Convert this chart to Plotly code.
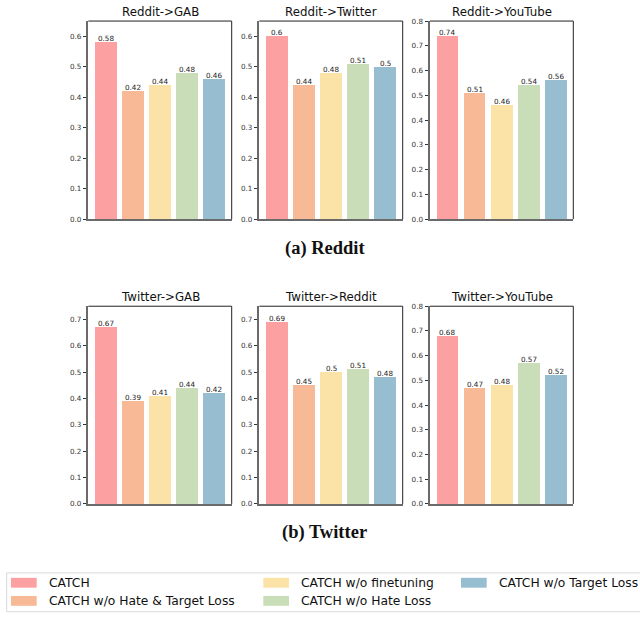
import plotly.graph_objects as go

# ---- data ----
methods = ["CATCH", "CATCH w/o Hate & Target Loss", "CATCH w/o finetuning",
           "CATCH w/o Hate Loss", "CATCH w/o Target Loss"]
colors = ["#FDA0A2", "#F7B996", "#FBE3A8", "#C9DEB8", "#96BDD0"]

titles_reddit = ["Reddit->GAB", "Reddit->Twitter", "Reddit->YouTube"]
titles_twitter = ["Twitter->GAB", "Twitter->Reddit", "Twitter->YouTube"]

# values per panel, in method order
reddit_gab = [0.58, 0.42, 0.44, 0.48, 0.46]
reddit_twitter = [0.6, 0.44, 0.48, 0.51, 0.5]
reddit_youtube = [0.74, 0.51, 0.46, 0.54, 0.56]
twitter_gab = [0.67, 0.39, 0.41, 0.44, 0.42]
twitter_reddit = [0.69, 0.45, 0.5, 0.51, 0.48]
twitter_youtube = [0.68, 0.47, 0.48, 0.57, 0.52]

ymax = [0.65, 0.65, 0.8, 0.75, 0.75, 0.8]
group_labels = ["(a) Reddit", "(b) Twitter"]

panels = [reddit_gab, reddit_twitter, reddit_youtube,
          twitter_gab, twitter_reddit, twitter_youtube]
titles = titles_reddit + titles_twitter

W, H = 640, 618
xpix = [(88.3, 231.7), (259.3, 402.7), (430.0, 573.3)]
ypix = [(17.3, 218.3), (306.7, 507.3)]

fig = go.Figure()
annotations = []
shapes = []
for i, vals in enumerate(panels):
    r, c = divmod(i, 3)
    n = i + 1
    xa = "x" if n == 1 else f"x{n}"
    ya = "y" if n == 1 else f"y{n}"
    for k, (m, col) in enumerate(zip(methods, colors)):
        fig.add_trace(go.Bar(
            x=[k], y=[vals[k]], width=0.8, name=m, marker_color=col,
            marker_line_width=0, showlegend=False, xaxis=xa, yaxis=ya))
        annotations.append(dict(text=str(vals[k]), xref=xa, yref=ya, x=k, y=vals[k],
                                xanchor="center", yanchor="bottom", showarrow=False,
                                yshift=-2, borderpad=0,
                                font=dict(size=7.2, color="#222", family="DejaVu Sans")))
    x0, x1 = xpix[c]
    y0, y1 = ypix[r]
    dom_x = [x0 / W, x1 / W]
    dom_y = [1 - y1 / H, 1 - y0 / H]
    xkey = "xaxis" if n == 1 else f"xaxis{n}"
    ykey = "yaxis" if n == 1 else f"yaxis{n}"
    fig.update_layout(**{
        xkey: dict(domain=dom_x, anchor=ya, range=[-0.64, 4.64], showticklabels=False,
                   ticks="", showgrid=False, zeroline=False, showline=True,
                   linewidth=2, linecolor="#6a6a6a", fixedrange=True),
        ykey: dict(domain=dom_y, anchor=xa, range=[0, ymax[i]], dtick=0.1, tickformat=".1f",
                   ticks="outside", ticklen=3.5, tickwidth=1, tickcolor="#333",
                   tickfont=dict(size=7.2, color="#333", family="DejaVu Sans"),
                   showgrid=False, zeroline=False, showline=True, linewidth=2,
                   linecolor="#6a6a6a", fixedrange=True),
    })
    # top and right spines
    shapes.append(dict(type="line", xref=f"{xa} domain", yref=f"{ya} domain",
                       x0=0, x1=1, y0=1, y1=1, line=dict(color="#222", width=1)))
    shapes.append(dict(type="line", xref=f"{xa} domain", yref=f"{ya} domain",
                       x0=1, x1=1, y0=0, y1=1, line=dict(color="#222", width=1)))
    annotations.append(dict(text=titles[i], xref="paper", yref="paper",
                            x=(dom_x[0] + dom_x[1]) / 2, y=dom_y[1], yanchor="bottom",
                            xanchor="center", showarrow=False, yshift=0,
                            font=dict(size=11.8, color="#111", family="DejaVu Sans")))

# group captions
for lab, ypos in zip(group_labels, [247.7, 536.5]):
    annotations.append(dict(text=f"<b>{lab}</b>", xref="paper", yref="paper",
                            x=324.5 / W, y=1 - ypos / H, xanchor="center", yanchor="middle",
                            showarrow=False,
                            font=dict(size=18.5, color="#111", family="Liberation Serif")))

# legend (matplotlib-style, 3 columns, column-major)
shapes.append(dict(type="rect", xref="paper", yref="paper", x0=6.7 / W, x1=645 / W,
                   y0=1 - 616.7 / H, y1=1 - 577.3 / H,
                   line=dict(color="#d9d9d9", width=1), fillcolor="white"))
col_x = [11.0, 263.3, 461.0]
row_y = [587.3, 605.7]
for k, (m, col) in enumerate(zip(methods, colors)):
    cc, rr = divmod(k, 2)
    px = col_x[cc]
    py = row_y[rr]
    shapes.append(dict(type="rect", xref="paper", yref="paper",
                       x0=px / W, x1=(px + 25.7) / W,
                       y0=1 - (py + 5) / H, y1=1 - (py - 5) / H,
                       line=dict(width=0), fillcolor=col))
    annotations.append(dict(text=m, xref="paper", yref="paper", x=(px + 35.7) / W,
                            y=1 - py / H, xanchor="left", yanchor="middle", showarrow=False,
                            font=dict(size=12.3, color="#111", family="DejaVu Sans")))

fig.update_layout(width=W, height=H, margin=dict(l=0, r=0, t=0, b=0),
                  plot_bgcolor="white", paper_bgcolor="white",
                  annotations=annotations, shapes=shapes, bargap=0,
                  font=dict(family="DejaVu Sans"))

fig.write_html("out.html", config={"displayModeBar": False, "staticPlot": True},
               post_script="document.body.style.margin='0';document.body.style.overflow='hidden';")
